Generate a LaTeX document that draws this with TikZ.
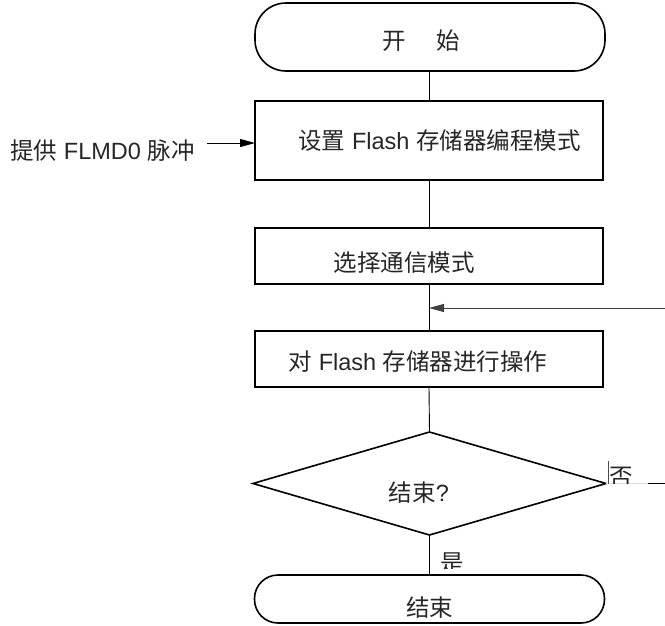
\documentclass[tikz,border=0pt]{standalone}
\usepackage{fontspec}
\setmainfont{Liberation Sans}
\newfontfamily\cjk{Noto Sans CJK SC}
\usetikzlibrary{shapes.geometric,arrows.meta}
\begin{document}
\begin{tikzpicture}[x=1pt,y=-1pt,
  box/.style={draw,line width=2pt,minimum width=348pt,inner sep=0pt,outer sep=0pt},
  term/.style={draw,line width=1.6pt,minimum width=350pt,inner sep=0pt,outer sep=0pt},
  dia/.style={draw,diamond,aspect=1,line width=1.6pt,minimum width=353pt,minimum height=103pt,inner sep=0pt,outer sep=0pt},
  txt/.style={inner sep=0pt,text=black!85,font=\fontsize{23.5}{28}\selectfont},
  flow/.style={line width=0.9pt},
  arr/.style={line width=0.9pt,-{Triangle[length=15pt,width=8pt]}}]
\useasboundingbox (0,0) rectangle (665,625);

% shapes
\node[term,rounded corners=31pt,minimum height=68pt] (start) at (430,37) {};
\node[box,minimum height=79pt] (b1) at (429,140.5) {};
\node[box,minimum height=56pt] (b2) at (429,256) {};
\node[box,minimum height=56pt] (b3) at (429,359) {};
\node[dia] (d) at (429.5,483.5) {};
\node[term,rounded corners=23.5pt,minimum height=48pt] (stop) at (429.5,599) {};

% texts
\node[txt] (tstart) at (421.5,41) {\cjk 开\hspace{31pt}始};
\node[txt] (t1) at (439.5,141) {{\cjk 设置} Flash {\cjk 存储器编程模式}};
\node[txt] (t2) at (404,263) {\cjk 选择通信模式};
\node[txt] (t3) at (418,362) {{\cjk 对} Flash {\cjk 存储器进行操作}};
\node[txt] (td) at (419,493) {{\cjk 结束}?};
\node[txt] (tstop) at (429.5,608) {\cjk 结束};
\node[txt] (tin) at (102.5,151) {{\cjk 提供} FLMD0 {\cjk 脉冲}};

% connectors
\draw[flow] (start.south -| b1.north) -- (b1.north);
\draw[flow] (b1.south) -- (b2.north);
\draw[flow] (b2.south) -- (b3.north);
\draw[flow] (b3.south) -- (d.north);
\draw[flow] (d.south) -- (stop.north);

% input arrow
\coordinate (fin) at (207,143);
\draw[arr] (fin) -- (fin -| b1.west);

% return arrow
\coordinate (rin) at (665,308);
\draw[arr,draw=black!75,fill=black] (rin) -- (b2.south |- rin);

% no branch
\coordinate (nomid) at (648,483.5);
\coordinate (noend) at (665,483.5);
\draw[line width=0.6pt,black!12] (d.east) -- (nomid);
\draw[flow] (nomid) -- (noend);
\coordinate (tickt) at (608,461);
\draw[line width=0.8pt,black!70] (tickt) -- (tickt |- d.east);
\begin{scope}
  \clip (609,455) rectangle (640,483.5);
  \node[txt] (tno) at (621.5,477) {\cjk 否};
\end{scope}

% yes label
\begin{scope}
  \clip (435,548) rectangle (470,568);
  \node[txt] (tyes) at (452,563) {\cjk 是};
\end{scope}
\end{tikzpicture}
\end{document}
